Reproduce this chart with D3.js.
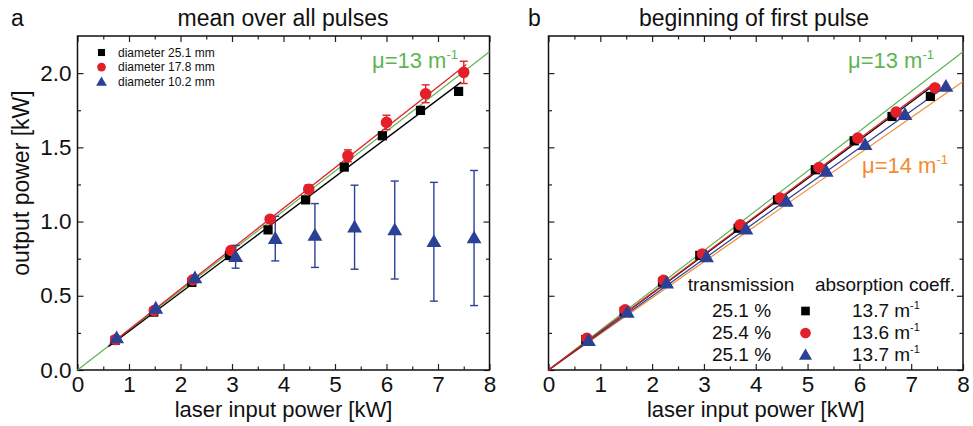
<!DOCTYPE html>
<html><head><meta charset="utf-8">
<script src="https://cdn.jsdelivr.net/npm/d3@7"></script>
<style>body{margin:0;background:#fff}svg{display:block}text{font-family:"Liberation Sans",Arial,sans-serif}</style>
</head><body><svg id="c" width="973" height="426"></svg>
<script>
// ---------- data ----------
const xTicks = [0,1,2,3,4,5,6,7,8];
const yTicks = [0.0,0.5,1.0,1.5,2.0];
const yTickLabels = ["0.0","0.5","1.0","1.5","2.0"];

// panel a: mean over all pulses
const aBlackX = [0.73,1.48,2.22,2.95,3.70,4.43,5.18,5.92,6.66,7.40];
const aBlackY = [0.20,0.39,0.59,0.771,0.944,1.146,1.367,1.578,1.749,1.877];
const aBlackE = [0.005,0.005,0.008,0.01,0.01,0.01,0.012,0.012,0.015,0.02];
const aRedX = [0.74,1.49,2.24,2.98,3.74,4.49,5.25,6.00,6.76,7.50];
const aRedY = [0.205,0.40,0.607,0.805,1.016,1.218,1.443,1.668,1.861,2.005];
const aRedE = [0.008,0.01,0.015,0.02,0.015,0.03,0.04,0.048,0.06,0.075];
const aBlueX = [0.76,1.52,2.28,3.07,3.84,4.61,5.38,6.16,6.92,7.70];
const aBlueY = [0.215,0.415,0.62,0.763,0.885,0.906,0.962,0.943,0.864,0.889];
const aBlueE = [0.008,0.01,0.015,0.077,0.15,0.215,0.283,0.33,0.40,0.455];
const legendA = ["diameter 25.1 mm","diameter 17.8 mm","diameter 10.2 mm"];

// panel b: beginning of first pulse
const bBlackX = [0.72,1.46,2.20,2.92,3.66,4.42,5.15,5.90,6.63,7.37];
const bBlackY = [0.205,0.395,0.592,0.772,0.955,1.146,1.349,1.544,1.708,1.843];
const bRedX = [0.74,1.48,2.22,2.97,3.70,4.47,5.22,5.97,6.71,7.46];
const bRedY = [0.214,0.405,0.604,0.782,0.978,1.158,1.364,1.562,1.737,1.90];
const bBlueX = [0.77,1.52,2.28,3.05,3.81,4.59,5.36,6.11,6.88,7.67];
const bBlueY = [0.198,0.387,0.585,0.762,0.948,1.135,1.337,1.517,1.72,1.91];
const transmission = ["25.1 %","25.4 %","25.1 %"];
const absorption = ["13.7","13.6","13.7"];

// reference lines (slope in kW/kW)
const mu13Slope = 0.268;
const mu14Slope = 0.243;

// ---------- style ----------
const C = {black:"#000000", red:"#e3202a", blue:"#2a4196", green:"#5cb550", orange:"#f28b2f"};
const FONT = 23;

const svg = d3.select("#c");
const yS = d3.scaleLinear().domain([0,2.25]).range([370,36]);
const xA = d3.scaleLinear().domain([0,8]).range([77.5,489.5]);
const xB = d3.scaleLinear().domain([0,8]).range([548.5,963]);

function fitSlope(xs,ys){let sxy=0,sxx=0;xs.forEach((x,i)=>{sxy+=x*ys[i];sxx+=x*x;});return sxy/sxx;}

function frame(x, showYLabels){
  const g = svg.append("g");
  const minorX = d3.range(0.5,8,1);
  const minorY = d3.range(0.25,2.25,0.5);
  const [x0,x1] = x.range(); const [y0,y1] = yS.range();
  g.append("g").attr("transform",`translate(0,${y0})`)
    .call(d3.axisBottom(x).tickValues(xTicks).tickFormat(d3.format("d")).tickSize(-6).tickPadding(6));
  g.append("g").attr("transform",`translate(0,${y0})`)
    .call(d3.axisBottom(x).tickValues(minorX).tickFormat("").tickSize(-3.5));
  g.append("g").attr("transform",`translate(0,${y1})`)
    .call(d3.axisTop(x).tickValues(xTicks).tickFormat("").tickSize(-6));
  g.append("g").attr("transform",`translate(0,${y1})`)
    .call(d3.axisTop(x).tickValues(minorX).tickFormat("").tickSize(-3.5));
  g.append("g").attr("transform",`translate(${x0},0)`)
    .call(d3.axisLeft(yS).tickValues(yTicks).tickFormat((d,i)=>showYLabels?yTickLabels[i]:"").tickSize(-6).tickPadding(6));
  g.append("g").attr("transform",`translate(${x0},0)`)
    .call(d3.axisLeft(yS).tickValues(minorY).tickFormat("").tickSize(-3.5));
  g.append("g").attr("transform",`translate(${x1},0)`)
    .call(d3.axisRight(yS).tickValues(yTicks).tickFormat("").tickSize(-6));
  g.append("g").attr("transform",`translate(${x1},0)`)
    .call(d3.axisRight(yS).tickValues(minorY).tickFormat("").tickSize(-3.5));
  g.selectAll(".domain").remove();
  g.selectAll(".tick line").attr("stroke","#222").attr("stroke-width",1.2);
  g.selectAll(".tick text").attr("font-size",22.5).attr("fill","#111")
    .style("font-family",'"Liberation Sans",Arial,sans-serif');
  g.append("rect").attr("x",x0).attr("y",y1).attr("width",x1-x0).attr("height",y0-y1)
    .attr("fill","none").attr("stroke","#111").attr("stroke-width",1.5);
  return g;
}

function line(g,x,slope,xa,xb,color,w){
  g.append("line").attr("x1",x(xa)).attr("y1",yS(slope*xa)).attr("x2",x(xb)).attr("y2",yS(slope*xb))
    .attr("stroke",color).attr("stroke-width",w||1.2);
}
const sym = {
  square: d3.symbol().type(d3.symbolSquare),
  circle: d3.symbol().type(d3.symbolCircle),
  tri: d3.symbol().type(d3.symbolTriangle)
};
function points(g,x,xs,ys,type,color,size){
  g.selectAll(null).data(xs).enter().append("path")
    .attr("d",sym[type].size(size)())
    .attr("transform",(d,i)=>`translate(${x(d)},${yS(ys[i]) + (type==="tri"?1:0)})`)
    .attr("fill",color);
}
function errbars(g,x,xs,ys,es,color){
  xs.forEach((d,i)=>{
    const cx = x(d), t = yS(ys[i]+es[i]), b = yS(ys[i]-es[i]);
    g.append("line").attr("x1",cx).attr("x2",cx).attr("y1",t).attr("y2",b).attr("stroke",color).attr("stroke-width",1.4);
    [t,b].forEach(yy=>g.append("line").attr("x1",cx-4).attr("x2",cx+4).attr("y1",yy).attr("y2",yy).attr("stroke",color).attr("stroke-width",1.4));
  });
}
function muLabel(g,x,y,txt,color){
  const t = g.append("text").attr("x",x).attr("y",y).attr("font-size",22).attr("fill",color);
  t.append("tspan").text(txt);
  t.append("tspan").attr("dy",-9).attr("font-size",13).text("-1");
}

// ---------- panel a ----------
const gA = frame(xA,true);
const pA = svg.append("g");
line(pA,xA,mu13Slope,0,8,C.green,1.2);
line(pA,xA,fitSlope(aBlackX,aBlackY),0.6,7.45,C.black,1.3);
line(pA,xA,fitSlope(aRedX,aRedY),0.6,7.55,C.red,1.3);
errbars(pA,xA,aBlueX,aBlueY,aBlueE,C.blue);
errbars(pA,xA,aRedX,aRedY,aRedE,C.red);
errbars(pA,xA,aBlackX,aBlackY,aBlackE,C.black);
points(pA,xA,aBlackX,aBlackY,"square",C.black,85);
points(pA,xA,aRedX,aRedY,"circle",C.red,105);
points(pA,xA,aBlueX,aBlueY,"tri",C.blue,95);
muLabel(pA,372,68,"μ=13 m",C.green);
const legTypes = ["square","circle","tri"], legColors=[C.black,C.red,C.blue];
legendA.forEach((s,i)=>{
  const yy = 52.5 + i*14.6;
  pA.append("path").attr("d",sym[legTypes[i]].size(legTypes[i]==="circle"?60:50)())
    .attr("transform",`translate(101.5,${yy+(i===2?1:0)})`).attr("fill",legColors[i]);
  pA.append("text").attr("x",118).attr("y",yy+4.3).attr("font-size",12).attr("fill","#111").text(s);
});

// ---------- panel b ----------
const gB = frame(xB,false);
const pB = svg.append("g");
line(pB,xB,mu13Slope,0,8,C.green,1.2);
line(pB,xB,mu14Slope,0,8,C.orange,1.2);
line(pB,xB,fitSlope(bBlueX,bBlueY),0,7.67,C.blue,1.2);
line(pB,xB,fitSlope(bBlackX,bBlackY),0,7.37,C.black,1.3);
line(pB,xB,fitSlope(bRedX,bRedY),0,7.46,C.red,1.3);
points(pB,xB,bBlackX,bBlackY,"square",C.black,85);
points(pB,xB,bRedX,bRedY,"circle",C.red,105);
points(pB,xB,bBlueX,bBlueY,"tri",C.blue,95);
muLabel(pB,848,68,"μ=13 m",C.green);
muLabel(pB,862,173,"μ=14 m",C.orange);
pB.append("text").attr("x",741).attr("y",291).attr("text-anchor","middle").attr("font-size",19).attr("fill","#111").text("transmission");
pB.append("text").attr("x",885).attr("y",291).attr("text-anchor","middle").attr("font-size",19).attr("fill","#111").text("absorption coeff.");
transmission.forEach((s,i)=>{
  const yy = 317 + i*22;
  pB.append("text").attr("x",741.5).attr("y",yy).attr("text-anchor","middle").attr("font-size",19).attr("fill","#111").text(s);
  pB.append("path").attr("d",sym[legTypes[i]].size(legTypes[i]==="circle"?90:75)())
    .attr("transform",`translate(805.5,${yy-6+(i===2?1:0)})`).attr("fill",legColors[i]);
  const t = pB.append("text").attr("x",852).attr("y",yy).attr("font-size",19).attr("fill","#111");
  t.append("tspan").text(absorption[i]+" m");
  t.append("tspan").attr("dy",-8).attr("font-size",11).text("-1");
});

// ---------- titles & axis labels ----------
svg.append("text").attr("x",283).attr("y",26).attr("text-anchor","middle").attr("font-size",FONT).attr("fill","#111").text("mean over all pulses");
svg.append("text").attr("x",754).attr("y",26).attr("text-anchor","middle").attr("font-size",FONT).attr("fill","#111").text("beginning of first pulse");
svg.append("text").attr("x",11).attr("y",26).attr("font-size",FONT).attr("fill","#111").text("a");
svg.append("text").attr("x",528).attr("y",26).attr("font-size",FONT).attr("fill","#111").text("b");
svg.append("text").attr("x",(77.5+489.5)/2).attr("y",417).attr("text-anchor","middle").attr("font-size",22).attr("fill","#111").text("laser input power [kW]");
svg.append("text").attr("x",(548.5+963)/2).attr("y",417).attr("text-anchor","middle").attr("font-size",22).attr("fill","#111").text("laser input power [kW]");
svg.append("text").attr("transform","translate(29,183) rotate(-90)").attr("text-anchor","middle").attr("font-size",FONT).attr("fill","#111").text("output power [kW]");
</script></body></html>
